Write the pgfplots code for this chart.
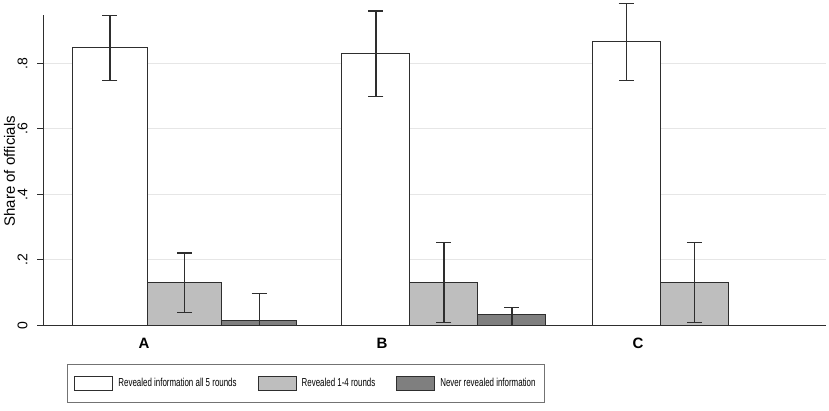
\documentclass[border=0pt]{standalone}
\usepackage{pgfplots}
\pgfplotsset{compat=1.18}
\usepackage{fontspec}
\setmainfont{Liberation Sans}
\newfontfamily\narrowfont[FakeStretch=0.69]{Liberation Sans}
\definecolor{barlight}{HTML}{BEBEBE}
\definecolor{bardark}{HTML}{7F7F7F}
\definecolor{gridc}{HTML}{E6E6E6}
\definecolor{edge}{HTML}{2E2E2E}
\pgfplotsset{
  mybar/.style={ybar, bar shift=0pt, draw=edge, line width=1pt,
    /pgfplots/error bars/y dir=both, /pgfplots/error bars/y explicit,
    /pgfplots/error bars/error bar style={line width=1.4pt, draw=edge, solid},
    /pgfplots/error bars/error mark options={rotate=90, mark size=7.5pt, line width=1.4pt, draw=edge}},
  swatch/.style={legend image code/.code={\draw[##1, line width=1pt] (0pt,-7pt) rectangle (38pt,7pt);}}
}
\begin{document}
\begin{tikzpicture}[x=1pt,y=1pt]
\useasboundingbox (0,0) rectangle (829,410);
\begin{axis}[
  at={(43pt,84.7pt)}, anchor=south west,
  scale only axis, width=783pt, height=310pt,
  xmin=43, xmax=826, ymin=0, ymax=0.9475,
  clip=false,
  axis x line*=bottom, axis y line*=left,
  axis line style={line width=1pt, draw=edge},
  xtick={144,382,638}, xticklabels={A,B,C},
  x tick label style={font=\bfseries\fontsize{15}{18}\selectfont, yshift=-3pt},
  xtick style={draw=none},
  ytick={0,0.2,0.4,0.6,0.8}, yticklabels={0,.2,.4,.6,.8},
  y tick label style={font=\fontsize{14}{17}\selectfont, rotate=90, anchor=south, yshift=6pt},
  ytick style={line width=1pt, draw=edge},
  tick align=outside, major tick length=6pt,
  ymajorgrids, grid style={line width=1pt, draw=gridc},
  ylabel={Share of officials},
  ylabel style={font=\fontsize{15}{18}\selectfont, at={(axis description cs:-0.0428,0.497)}, anchor=center},
  legend columns=3,
  legend cell align=left,
  legend style={at={(axis description cs:0.0307,-0.1248)}, anchor=north west,
    draw=black!55, line width=0.8pt,
    font=\narrowfont\fontsize{11.5}{13}\selectfont,
    inner xsep=7pt, inner ysep=11.5pt,
    nodes={inner sep=2pt},
    /tikz/every odd column/.append style={column sep=3pt},
    /tikz/every even column/.append style={column sep=19pt}},
]
% white: Revealed information all 5 rounds
\addplot[mybar, bar width=74.8, fill=white, swatch] coordinates {(109.8,0.848) += (0,0.099) -= (0,0.100)};
\addlegendentry{Revealed information all 5 rounds}
\addplot[mybar, bar width=68, fill=white, forget plot] coordinates {
  (375.8,0.832) += (0,0.129) -= (0,0.133)
  (626.2,0.866) += (0,0.118) -= (0,0.118)};
% light gray: Revealed 1-4 rounds
\addplot[mybar, bar width=74.8, fill=barlight, swatch] coordinates {(184.5,0.130) += (0,0.091) -= (0,0.090)};
\addlegendentry{Revealed 1-4 rounds}
\addplot[mybar, bar width=68, fill=barlight, forget plot] coordinates {
  (443.8,0.131) += (0,0.122) -= (0,0.123)
  (694.4,0.131) += (0,0.122) -= (0,0.123)};
% dark gray: Never revealed information
\addplot[mybar, bar width=74.8, fill=bardark, swatch] coordinates {(259.2,0.014) += (0,0.084) -= (0,0.014)};
\addlegendentry{Never revealed information}
\addplot[mybar, bar width=68, fill=bardark, forget plot] coordinates {
  (511.8,0.034) += (0,0.020) -= (0,0.034)};
\end{axis}
\end{tikzpicture}
\end{document}
